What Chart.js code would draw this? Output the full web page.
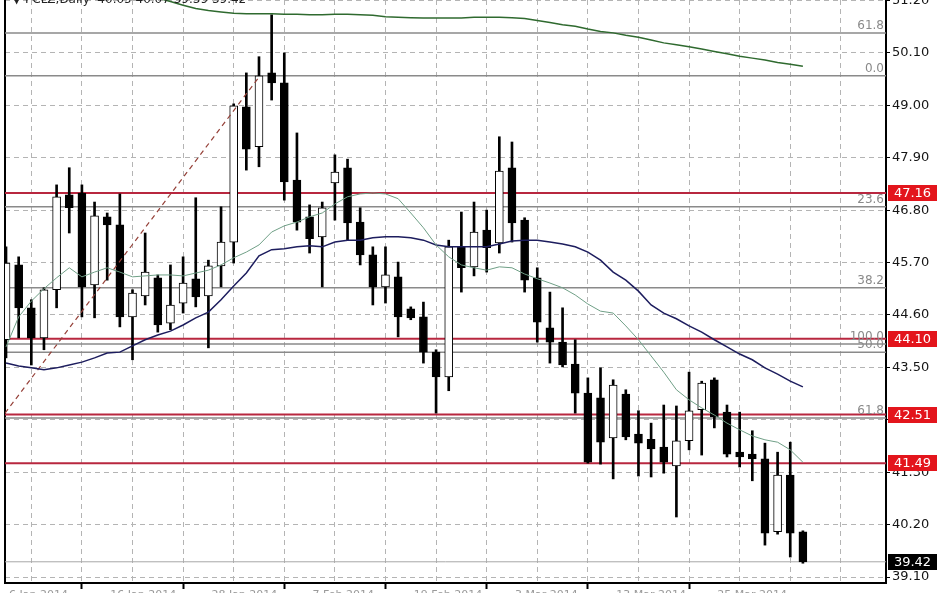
<!DOCTYPE html>
<html>
<head>
<meta charset="utf-8">
<script src="https://cdn.jsdelivr.net/npm/chart.js@4.4.0/dist/chart.umd.min.js"></script>
<style>
  html, body { margin: 0; padding: 0; background: #fff; }
  canvas { display: block; }
</style>
</head>
<body>
<canvas id="chart" width="948" height="593"></canvas>
<script>
// header text (mostly cut off at the top of the picture)
const titleText = '\u25BC PCLZ,Daily  40.05 40.07 39.39 39.42';

// daily candles, bar index 0..63
const opens  = [44.08,45.65,44.75,44.12,45.13,47.12,47.16,45.23,46.66,46.49,44.56,45.00,45.38,44.43,44.85,45.36,
                45.00,45.63,46.13,48.97,48.13,49.68,49.47,47.43,46.66,46.24,47.37,47.69,46.55,45.86,45.19,45.40,
                44.73,44.56,43.82,43.30,46.03,45.61,46.38,46.11,47.69,46.59,45.38,44.33,44.03,43.57,42.96,42.86,
                42.02,42.94,42.10,41.99,41.83,41.43,41.96,42.61,43.24,42.56,41.72,41.68,41.58,40.05,41.24,40.05];
const highs  = [46.03,45.82,44.92,45.17,47.33,47.69,47.33,46.97,46.74,47.14,45.13,46.32,45.44,45.65,45.82,47.06,
                45.75,46.87,49.03,49.68,50.02,50.90,50.10,48.42,46.91,46.97,47.96,47.87,46.85,46.03,46.03,45.71,
                44.77,44.87,43.87,46.17,46.76,46.97,46.80,48.34,48.23,46.64,45.59,45.08,44.75,44.08,43.28,43.49,
                43.24,43.03,42.59,42.33,42.71,42.69,43.40,43.21,43.28,42.71,42.56,42.17,41.91,41.72,41.93,40.07];
const lows   = [43.70,44.12,43.55,43.87,44.75,46.32,44.56,44.54,45.33,44.35,43.66,44.81,44.24,44.29,44.64,44.77,
                43.91,45.19,45.69,47.64,47.71,49.11,47.01,46.38,45.90,45.19,46.59,46.17,45.65,44.81,44.85,44.14,
                44.50,43.59,42.54,43.01,45.08,45.42,45.50,45.90,46.13,45.08,44.03,43.59,43.51,42.54,41.49,41.47,
                41.16,41.98,41.22,41.20,41.28,40.36,41.77,41.66,42.23,41.62,41.41,41.12,39.77,40.00,39.52,39.39];
const closes = [45.69,44.75,44.12,45.13,47.08,46.85,45.19,46.68,46.49,44.56,45.06,45.50,44.39,44.81,45.27,44.98,
                45.63,46.13,48.99,48.08,49.62,49.47,47.39,46.55,46.20,46.85,47.60,46.53,45.86,45.19,45.44,44.56,
                44.54,43.82,43.30,46.03,45.59,46.34,46.01,47.62,46.53,45.33,44.45,44.03,43.55,42.96,41.51,41.93,
                43.13,42.04,41.91,41.79,41.51,41.96,42.59,43.17,42.46,41.68,41.62,41.58,40.02,41.24,40.02,39.42];

// moving averages
const maFast = [43.93,44.56,44.89,45.15,45.38,45.59,45.40,45.50,45.59,45.50,45.40,45.42,45.44,45.44,45.42,45.48,
                45.54,45.65,45.80,45.92,46.07,46.34,46.47,46.55,46.66,46.74,46.93,47.08,47.14,47.16,47.14,47.04,
                46.74,46.43,46.07,45.82,45.65,45.59,45.54,45.61,45.59,45.46,45.36,45.27,45.17,45.02,44.83,44.68,
                44.64,44.37,44.08,43.74,43.40,43.03,42.82,42.65,42.50,42.33,42.19,42.06,41.98,41.93,41.77,41.51];
const maMid  = [43.59,43.53,43.49,43.45,43.49,43.55,43.61,43.70,43.80,43.82,43.95,44.08,44.18,44.26,44.39,44.54,
                44.66,44.92,45.21,45.48,45.84,45.97,45.99,46.03,46.05,46.03,46.13,46.17,46.17,46.22,46.24,46.24,
                46.22,46.17,46.07,46.03,46.03,46.03,46.03,46.09,46.15,46.17,46.17,46.13,46.09,46.03,45.92,45.75,
                45.50,45.33,45.10,44.81,44.64,44.52,44.37,44.24,44.08,43.93,43.78,43.66,43.49,43.36,43.21,43.09];
const maSlow = [null,null,null,null,null,null,null,null,null,null,null,null,51.25,51.18,51.10,51.03,
                50.99,50.96,50.93,50.92,50.92,50.92,50.91,50.91,50.90,50.90,50.91,50.91,50.90,50.89,50.86,50.85,
                50.84,50.83,50.83,50.83,50.83,50.85,50.85,50.85,50.84,50.82,50.78,50.74,50.69,50.66,50.60,50.55,
                50.52,50.47,50.43,50.37,50.31,50.27,50.23,50.18,50.13,50.08,50.03,49.99,49.95,49.90,49.86,49.82];

// drawn levels
const fibValues = [50.52, 49.62, 46.87, 45.17, 43.99, 43.82, 42.44];
const fibLabels = ['61.8', '0.0', '23.6', '38.2', '100.0', '50.0', '61.8'];
const redLevels = [47.16, 44.10, 42.51, 41.49];
const lastPrice = 39.42;
const trendFrom = [-0.08, 42.54];
const trendTo   = [20.08, 49.62];

// axes
const yTicks = [39.10, 40.20, 41.30, 42.40, 43.50, 44.60, 45.70, 46.80, 47.90, 49.00, 50.10, 51.20];
const xGrid  = [0, 4, 8, 12, 16, 20, 24, 28, 32, 36, 40, 44, 48, 52, 56, 60, 64, 68];
const dateLabels = ['6 Jan 2014', '16 Jan 2014', '28 Jan 2014', '7 Feb 2014', '19 Feb 2014', '3 Mar 2014', '13 Mar 2014', '25 Mar 2014'];

const X_MIN = -0.08, X_MAX = 69.57, Y_MIN = 38.975, Y_MAX = 51.21;

Chart.defaults.font.family = '"DejaVu Sans"';

const idx = opens.map((_, i) => i);
const bodyFill = idx.map(i => closes[i] >= opens[i] ? '#ffffff' : '#000000');

function hLine(v, color, width, order) {
  return {
    type: 'line',
    data: [{x: X_MIN, y: v}, {x: X_MAX, y: v}],
    borderColor: color, borderWidth: width,
    pointRadius: 0, order: order
  };
}

const datasets = [
  {
    type: 'bar',
    data: idx.map(i => ({x: i, y: [lows[i], highs[i]]})),
    backgroundColor: '#000', barThickness: 2, grouped: false, order: 2
  },
  {
    type: 'bar',
    data: idx.map(i => ({x: i, y: [opens[i], closes[i]]})),
    backgroundColor: bodyFill, borderColor: '#000', borderWidth: 1,
    borderSkipped: false, barThickness: 8, grouped: false, order: 1
  },
  { type: 'line', data: idx.map(i => ({x: i, y: maFast[i]})), borderColor: '#6f9f86', borderWidth: 1, pointRadius: 0, order: 0 },
  { type: 'line', data: idx.map(i => ({x: i, y: maMid[i]})), borderColor: '#1d1d5e', borderWidth: 1.5, pointRadius: 0, order: 0 },
  { type: 'line', data: idx.map(i => ({x: i, y: maSlow[i]})), borderColor: '#2f6a2f', borderWidth: 1.5, pointRadius: 0, order: 0 },
  {
    type: 'line',
    data: [{x: trendFrom[0], y: trendFrom[1]}, {x: trendTo[0], y: trendTo[1]}],
    borderColor: '#954038', borderWidth: 1.2, borderDash: [5, 4], pointRadius: 0, order: 0
  },
  hLine(lastPrice, '#a8a8a8', 1, 5)
];
fibValues.forEach(v => datasets.push(hLine(v, '#8a8a8a', 1.5, 4)));
redLevels.forEach(v => datasets.push(hLine(v, '#b8273f', 2, 3)));

const overlay = {
  id: 'overlay',
  afterDraw(chart) {
    const ctx = chart.ctx;
    const y = chart.scales.y;
    const area = chart.chartArea;
    ctx.save();
    // header
    ctx.font = '12px "DejaVu Sans"';
    ctx.fillStyle = '#222';
    ctx.textAlign = 'left';
    ctx.textBaseline = 'alphabetic';
    ctx.fillText(titleText, 12, 3);
    // fib labels
    ctx.font = '12px "DejaVu Sans"';
    ctx.fillStyle = '#8a8a8a';
    ctx.textAlign = 'right';
    ctx.textBaseline = 'bottom';
    fibValues.forEach((v, i) => ctx.fillText(fibLabels[i], area.right - 2, y.getPixelForValue(v) - 1));
    // price boxes
    ctx.font = '13px "DejaVu Sans"';
    ctx.textAlign = 'center';
    ctx.textBaseline = 'middle';
    const box = (v, fill) => {
      const py = Math.round(y.getPixelForValue(v));
      ctx.fillStyle = fill;
      ctx.fillRect(area.right + 2, py - 8, 49, 16);
      ctx.fillStyle = '#fff';
      ctx.fillText(v.toFixed(2), area.right + 26.5, py + 1);
    };
    redLevels.forEach(v => box(v, '#e3151c'));
    box(lastPrice, '#000');
    ctx.restore();
  }
};

new Chart(document.getElementById('chart'), {
  type: 'bar',
  data: { datasets },
  options: {
    responsive: false,
    animation: false,
    layout: { padding: { left: 5, top: 0, right: 0, bottom: 0 } },
    plugins: { legend: { display: false }, tooltip: { enabled: false } },
    scales: {
      x: {
        type: 'linear', position: 'bottom', min: X_MIN, max: X_MAX, offset: false,
        afterBuildTicks: s => { s.ticks = xGrid.map(v => ({value: v})); },
        afterFit: s => { s.height = 10; s.paddingLeft = 0; s.paddingRight = 0; },
        grid: {
          color: '#b4b4b4', lineWidth: 1, tickLength: 6, tickWidth: 2,
          tickColor: c => (c.tick && c.tick.value % 8 === 0 && c.tick.value <= 56) ? '#000' : 'rgba(0,0,0,0)',
          tickBorderDash: []
        },
        border: { display: true, color: '#000', width: 2, dash: [5, 4] },
        ticks: {
          autoSkip: false, maxRotation: 0, align: 'start', padding: 0, labelOffset: 3,
          color: '#9a9a9a', font: { size: 11 },
          callback: v => (v % 8 === 0 && v <= 56) ? dateLabels[v / 8] : ''
        }
      },
      y: {
        type: 'linear', position: 'right', min: Y_MIN, max: Y_MAX,
        afterBuildTicks: s => { s.ticks = yTicks.map(v => ({value: v})); },
        afterFit: s => { s.width = 62; s.paddingTop = 0; s.paddingBottom = 0; },
        grid: { color: '#b4b4b4', lineWidth: 1, tickLength: 4, tickColor: '#000', tickWidth: 1, tickBorderDash: [] },
        border: { display: true, color: '#000', width: 2, dash: [5, 4] },
        ticks: { padding: 2, color: '#151515', font: { size: 13 }, callback: v => v.toFixed(2) }
      },
      yl: {
        type: 'linear', position: 'left', min: Y_MIN, max: Y_MAX,
        afterFit: s => { s.width = 0; s.paddingTop = 0; s.paddingBottom = 0; },
        grid: { display: false },
        ticks: { display: false },
        border: { display: true, color: '#000', width: 2 }
      }
    }
  },
  plugins: [overlay]
});
</script>
</body>
</html>
